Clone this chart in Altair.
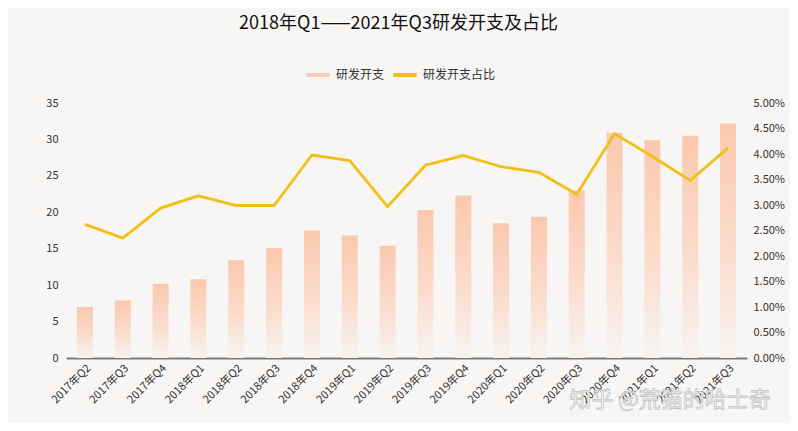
import altair as alt
import pandas as pd

quarters = ["2017年Q2", "2017年Q3", "2017年Q4", "2018年Q1", "2018年Q2", "2018年Q3",
            "2018年Q4", "2019年Q1", "2019年Q2", "2019年Q3", "2019年Q4", "2020年Q1",
            "2020年Q2", "2020年Q3", "2020年Q4", "2021年Q1", "2021年Q2", "2021年Q3"]
rd_spend = [7.0, 7.9, 10.2, 10.8, 13.4, 15.1, 17.5, 16.8, 15.4, 20.3, 22.3, 18.5,
            19.4, 23.0, 30.9, 29.9, 30.5, 32.2]
rd_ratio = [0.0262, 0.0235, 0.0294, 0.0318, 0.0299, 0.0299, 0.0398, 0.0387, 0.0297,
            0.0378, 0.0397, 0.0375, 0.0364, 0.0321, 0.0440, 0.0395, 0.0348, 0.0412]

series_names = ["研发开支", "研发开支占比"]
title_text = "2018年Q1——2021年Q3研发开支及占比"
watermark = "知乎 @荒猫的哈士奇"

df = pd.DataFrame({"quarter": quarters, "spend": rd_spend, "ratio": rd_ratio})

FONT = "Noto Sans CJK SC"
BG = "#f7f6f5"

x_enc = alt.X("quarter:N", sort=quarters, title=None,
              scale=alt.Scale(paddingInner=0, paddingOuter=0),
              axis=alt.Axis(labelAngle=-45, ticks=False, domainColor="#7a7a7a",
                            domainWidth=2, labelFontSize=11, labelColor="#333333",
                            labelPadding=4, labelFont=FONT))

bars = alt.Chart(df).mark_bar(
    size=16,
    color=alt.Gradient(
        gradient="linear",
        stops=[alt.GradientStop(color="#f7f3f0", offset=0),
               alt.GradientStop(color="#fbdccc", offset=0.45),
               alt.GradientStop(color="#fbc8ae", offset=1)],
        x1=1, x2=1, y1=1, y2=0),
).encode(
    x=x_enc,
    y=alt.Y("spend:Q", title=None, scale=alt.Scale(domain=[0, 35], nice=False),
            axis=alt.Axis(values=[0, 5, 10, 15, 20, 25, 30, 35], domain=False, ticks=False,
                          grid=False, labelFontSize=11, labelColor="#333333",
                          labelPadding=8, labelFont=FONT)),
)

line = alt.Chart(df).mark_line(strokeWidth=2.8).encode(
    x=x_enc,
    y=alt.Y("ratio:Q", title=None, scale=alt.Scale(domain=[0, 0.05], nice=False),
            axis=alt.Axis(orient="right", format=".2%",
                          values=[0, 0.005, 0.01, 0.015, 0.02, 0.025, 0.03, 0.035, 0.04, 0.045, 0.05],
                          domain=False, ticks=False, grid=False, labelFontSize=11,
                          labelColor="#333333", labelPadding=6, labelFont=FONT)),
    color=alt.Color("s:N", scale=alt.Scale(domain=series_names, range=["#fbcdb5", "#f1bf17"]),
                    legend=alt.Legend(title=None, orient="none", legendX=238, legendY=-42,
                                      direction="horizontal", symbolType="stroke",
                                      symbolStrokeWidth=4, symbolSize=550,
                                      labelFontSize=12, labelColor="#333333",
                                      labelFont=FONT, columnPadding=0, labelOffset=4,
                                      symbolOpacity=1)),
).transform_calculate(s="'研发开支占比'")

wm = alt.Chart(pd.DataFrame({"t": [watermark]})).mark_text(
    fontSize=22, font=FONT, fill="#ffffff", stroke="#c4c4c4", strokeWidth=0.8,
    align="center", baseline="middle"
).encode(text="t:N", x=alt.value(604), y=alt.value(297))

chart = alt.layer(bars, line, wm).resolve_scale(y="independent").properties(
    width=681, height=255,
    autosize=alt.AutoSizeParams(type="none"),
    padding={"left": 58, "top": 95, "right": 43, "bottom": 65},
    background=BG,
    title=alt.TitleParams(title_text, fontSize=18, font=FONT, fontWeight="normal",
                          color="#111111", anchor="middle", offset=28, dx=-8),
).configure_view(stroke=None)

chart.save("out.html", embed_options={"renderer": "svg", "actions": False})
